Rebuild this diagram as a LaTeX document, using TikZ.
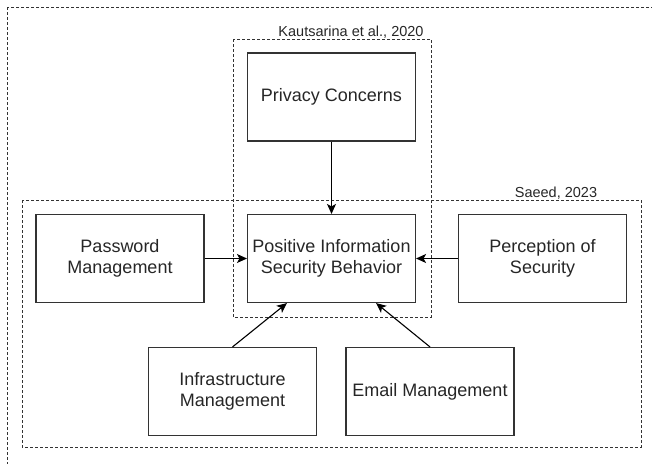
\documentclass[tikz,border=0pt]{standalone}
\usepackage{fontspec}
\setmainfont{Liberation Sans}
\usetikzlibrary{arrows.meta, positioning}
\definecolor{boxgray}{HTML}{333333}
\definecolor{textgray}{HTML}{262626}

\begin{document}
\begin{tikzpicture}[x=1pt, y=-1pt,
  factorbox/.style={draw=boxgray, line width=1.1pt, minimum width=168pt,
    minimum height=88pt, inner sep=0pt, align=center, text=textgray,
    font=\fontsize{18}{21}\selectfont},
  groupframe/.style={draw=boxgray, line width=0.8pt, dash pattern=on 3pt off 2pt},
  grouplabel/.style={font=\fontsize{14.5}{16}\selectfont, text=textgray,
    inner sep=0pt, anchor=base},
  linkarrow/.style={draw=black, line width=1.1pt,
    -{Stealth[length=10pt, width=9pt, inset=2.5pt]}}
]

\useasboundingbox (0,0) rectangle (652,463);
\clip (0,0) rectangle (652,463);

% Study frames
\draw[groupframe] (7,7) rectangle (680,490);
\draw[groupframe] (233,39) rectangle (431,317);
\draw[groupframe] (22,200) rectangle (641,447);
\node[grouplabel] (kautsarina) at (351,36) {Kautsarina et al., 2020};
\node[grouplabel] (saeed) at (556,197) {Saeed, 2023};

% Factors
\node[factorbox] (privacy) at (331.5,97) {Privacy Concerns};
\node[factorbox] (behavior) at (331.5,258.5) {Positive Information\\Security Behavior};
\node[factorbox] (password) at (120,258.5) {Password\\Management};
\node[factorbox] (perception) at (542.5,258.5) {Perception of\\Security};
\node[factorbox] (infra) at (232.5,391.5) {Infrastructure\\Management};
\node[factorbox] (email) at (430,391.5) {Email Management};

% Links into the behavior box
\draw[linkarrow] (privacy) -- (behavior);
\draw[linkarrow] (password) -- (behavior);
\draw[linkarrow] (perception) -- (behavior);
\draw[linkarrow] (infra.north) -- ([xshift=40pt]behavior.south west);
\draw[linkarrow] (email.north) -- ([xshift=-40pt]behavior.south east);

\end{tikzpicture}
\end{document}
